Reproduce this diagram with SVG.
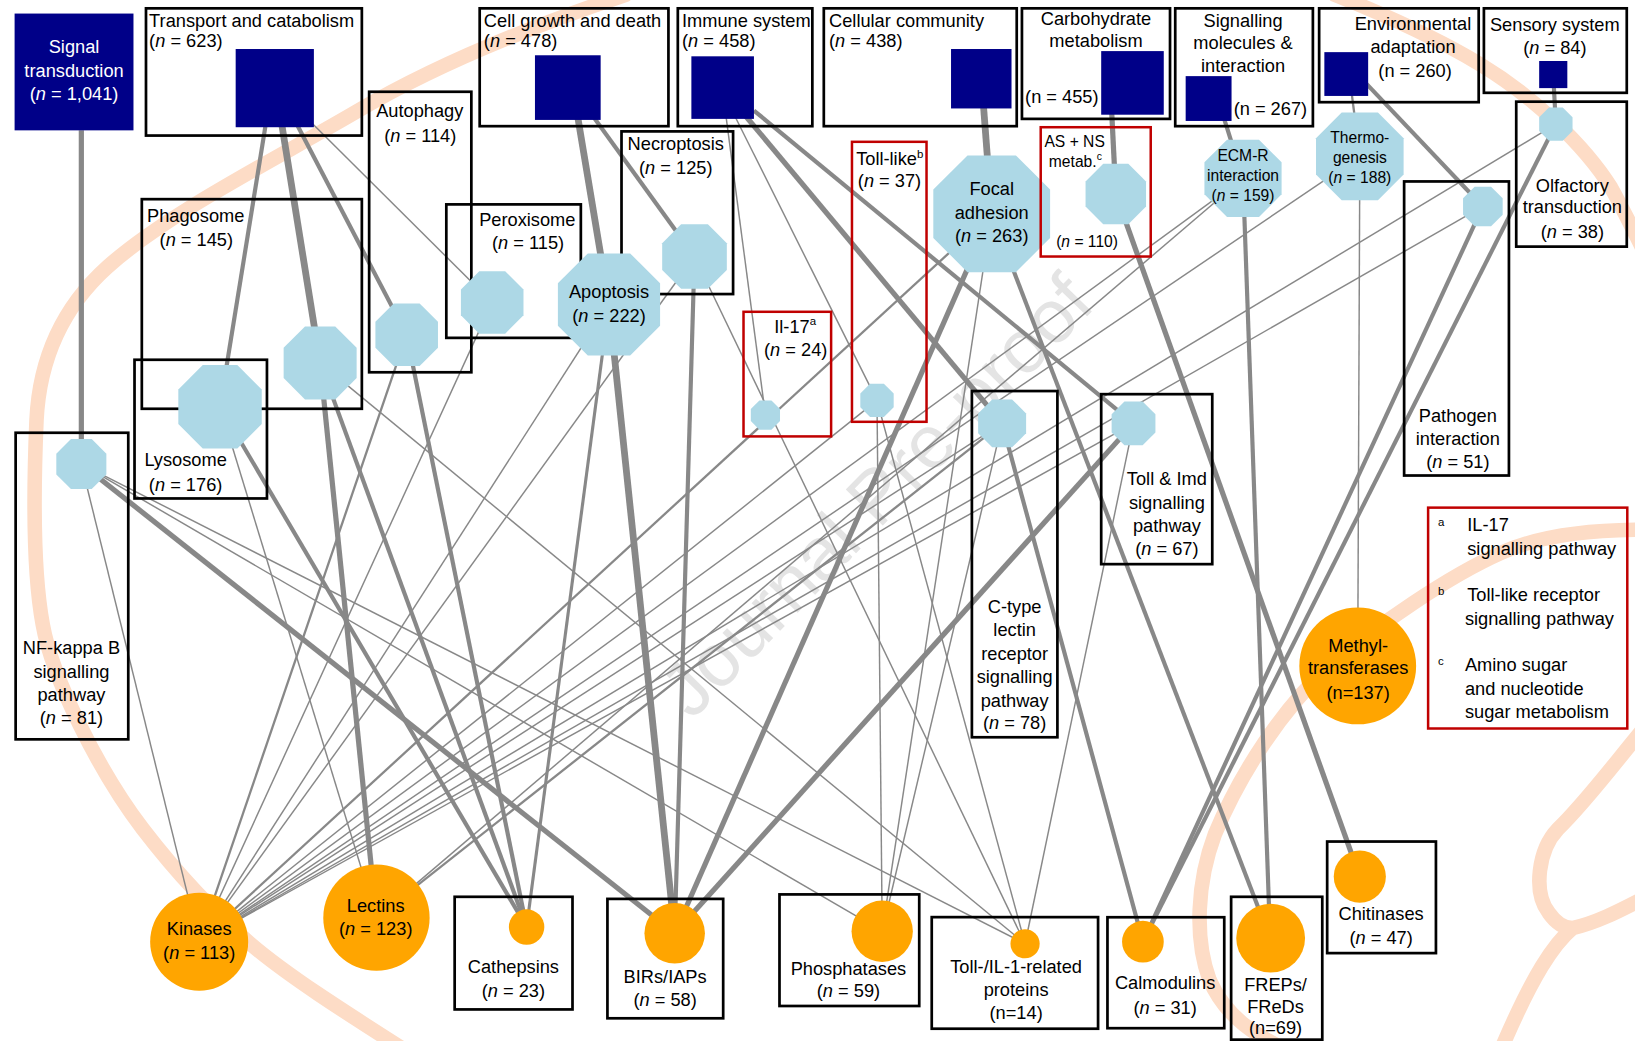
<svg xmlns="http://www.w3.org/2000/svg" width="1635" height="1041" viewBox="0 0 1635 1041">
<style>
.t{font-family:"Liberation Sans",Arial,sans-serif;font-size:17.5px;fill:#000}
.c{text-anchor:middle}
.s{font-size:15px}
.w{fill:#fff}
.i{font-style:italic}
.box{fill:none;stroke:#000;stroke-width:2.6}
.rbox{fill:none;stroke:#c00000;stroke-width:2.4}
.navy{fill:#000088}
.oct{fill:#add8e6}
.org{fill:#ffa500}
.e{stroke:#888;fill:none;stroke-linecap:butt}
.w1{stroke-width:1.4}.w2{stroke-width:2.2}.w3{stroke-width:3}.w4{stroke-width:4}.w5{stroke-width:5}.w6{stroke-width:6.5}
.peach{fill:none;stroke:#fddcc6;stroke-width:14;stroke-linecap:round;stroke-linejoin:round}
</style>
<defs>
<polygon id="oct" points="1,-0.4142 1,0.4142 0.4142,1 -0.4142,1 -1,0.4142 -1,-0.4142 -0.4142,-1 0.4142,-1"/>
</defs>
<rect width="1635" height="1041" fill="#fff"/>
<g transform="scale(1.0428)">
<g id="background">
<path class="peach" d="M600,-5 C540,15 430,55 342,107 C260,155 160,205 103,256 C63,292 38,340 35,403 C33,450 30,540 41,599 C50,650 95,740 137,795 C170,838 205,875 240,905 C275,935 330,970 385,1005"/>
<path class="peach" d="M1280,-5 C1330,15 1380,38 1420,62 C1470,92 1520,140 1545,180 C1555,198 1562,212 1575,238"/>
<path class="peach" d="M1575,508 C1530,508 1480,512 1440,530 C1390,552 1320,600 1274,639 C1230,680 1190,740 1165,800 C1148,845 1145,900 1160,940 C1175,975 1205,995 1245,1012"/>
<path class="peach" d="M1575,700 C1550,730 1520,770 1494,795 C1475,815 1470,855 1485,875 C1492,885 1500,890 1508,890 C1530,885 1550,875 1575,862 M1508,890 C1490,905 1470,935 1440,1005"/>
<text class="t c" transform="translate(840,475) rotate(-45.7)" x="0" y="25" style="font-size:72px;fill:#e4e4e4">Journal Pre-proof</text>
</g>
<g id="connectors">
<line class="e w5" x1="78" y1="125" x2="78" y2="445"/>
<line class="e w4" x1="255" y1="118" x2="211" y2="390"/>
<line class="e w6" x1="270" y1="118" x2="307" y2="348"/>
<line class="e w4" x1="284" y1="118" x2="390" y2="321"/>
<line class="e w1" x1="299" y1="118" x2="472" y2="290"/>
<line class="e w6" x1="554" y1="112" x2="584" y2="292"/>
<line class="e w4" x1="569" y1="112" x2="666" y2="246"/>
<line class="e w1" x1="696" y1="110" x2="734" y2="398"/>
<line class="e w1" x1="704" y1="110" x2="841" y2="384"/>
<line class="e w5" x1="714" y1="110" x2="961" y2="406"/>
<line class="e w4" x1="723" y1="106" x2="1087" y2="406"/>
<line class="e w6" x1="943" y1="100" x2="951" y2="205"/>
<line class="e w5" x1="1066" y1="106" x2="1070" y2="186"/>
<line class="e w4" x1="1172" y1="108" x2="1192" y2="171"/>
<line class="e w2" x1="1296" y1="88" x2="1304" y2="150"/>
<line class="e w4" x1="1310" y1="80" x2="1422" y2="198"/>
<line class="e w4" x1="1490" y1="82" x2="1492" y2="119"/>
<line class="e w1" x1="78" y1="445" x2="191" y2="903"/>
<line class="e w5" x1="78" y1="445" x2="647" y2="895"/>
<line class="e w1" x1="78" y1="445" x2="846" y2="893"/>
<line class="e w1" x1="78" y1="445" x2="983" y2="905"/>
<line class="e w4" x1="211" y1="390" x2="505" y2="889"/>
<line class="e w1" x1="211" y1="390" x2="361" y2="880"/>
<line class="e w5" x1="307" y1="348" x2="361" y2="880"/>
<line class="e w4" x1="307" y1="348" x2="505" y2="889"/>
<line class="e w1" x1="307" y1="348" x2="983" y2="905"/>
<line class="e w2" x1="390" y1="321" x2="191" y2="903"/>
<line class="e w4" x1="390" y1="321" x2="505" y2="889"/>
<line class="e w1" x1="472" y1="290" x2="191" y2="903"/>
<line class="e w6" x1="584" y1="292" x2="647" y2="895"/>
<line class="e w3" x1="584" y1="292" x2="505" y2="889"/>
<line class="e w1" x1="584" y1="292" x2="191" y2="903"/>
<line class="e w4" x1="666" y1="246" x2="647" y2="895"/>
<line class="e w1" x1="666" y1="246" x2="983" y2="905"/>
<line class="e w1" x1="666" y1="246" x2="191" y2="903"/>
<line class="e w1" x1="841" y1="384" x2="846" y2="893"/>
<line class="e w1" x1="841" y1="384" x2="983" y2="905"/>
<line class="e w1" x1="841" y1="384" x2="191" y2="903"/>
<line class="e w5" x1="951" y1="205" x2="647" y2="895"/>
<line class="e w4" x1="951" y1="205" x2="1218" y2="900"/>
<line class="e w1" x1="951" y1="205" x2="846" y2="893"/>
<line class="e w2" x1="951" y1="205" x2="191" y2="903"/>
<line class="e w4" x1="961" y1="406" x2="1096" y2="903"/>
<line class="e w2" x1="961" y1="406" x2="361" y2="880"/>
<line class="e w1" x1="961" y1="406" x2="846" y2="893"/>
<line class="e w1" x1="961" y1="406" x2="191" y2="903"/>
<line class="e w5" x1="1087" y1="406" x2="647" y2="895"/>
<line class="e w1" x1="1087" y1="406" x2="983" y2="905"/>
<line class="e w1" x1="1087" y1="406" x2="191" y2="903"/>
<line class="e w5" x1="1070" y1="186" x2="1304" y2="841"/>
<line class="e w4" x1="1192" y1="171" x2="1218" y2="900"/>
<line class="e w1" x1="1192" y1="171" x2="191" y2="903"/>
<line class="e w1" x1="1192" y1="171" x2="361" y2="880"/>
<line class="e w1" x1="1304" y1="150" x2="1302" y2="638"/>
<line class="e w1" x1="1304" y1="150" x2="191" y2="903"/>
<line class="e w4" x1="1422" y1="198" x2="1096" y2="903"/>
<line class="e w1" x1="1422" y1="198" x2="191" y2="903"/>
<line class="e w4" x1="1492" y1="119" x2="1096" y2="903"/>
<line class="e w1" x1="1492" y1="119" x2="191" y2="903"/>
</g>
<g id="n-signal">
<rect class="navy" x="14" y="13" width="114" height="112"/>
<text class="t c w" x="71" y="50.5">Signal</text>
<text class="t c w" x="71" y="74">transduction</text>
<text class="t c w" x="71" y="96">(<tspan class="i">n</tspan> = 1,041)</text>
</g>
<g id="n-transport">
<rect class="box" x="140" y="8" width="207" height="122"/>
<rect class="navy" x="226" y="47" width="75" height="75"/>
<text class="t" x="143" y="26">Transport and catabolism</text>
<text class="t" x="143" y="45">(<tspan class="i">n</tspan> = 623)</text>
</g>
<g id="n-cellgrowth">
<rect class="box" x="460" y="8" width="181" height="113"/>
<rect class="navy" x="513" y="53" width="63" height="62"/>
<text class="t" x="464" y="26">Cell growth and death</text>
<text class="t" x="464" y="45">(<tspan class="i">n</tspan> = 478)</text>
</g>
<g id="n-immune">
<rect class="box" x="650" y="8" width="129" height="113"/>
<rect class="navy" x="663" y="54" width="60" height="60"/>
<text class="t" x="654" y="26">Immune system</text>
<text class="t" x="654" y="45">(<tspan class="i">n</tspan> = 458)</text>
</g>
<g id="n-cellular">
<rect class="box" x="790" y="8" width="185" height="113"/>
<rect class="navy" x="912" y="47" width="58" height="57"/>
<text class="t" x="795" y="26">Cellular community</text>
<text class="t" x="795" y="45">(<tspan class="i">n</tspan> = 438)</text>
</g>
<g id="n-carbo">
<rect class="box" x="980" y="8" width="142" height="106"/>
<rect class="navy" x="1056" y="49" width="60" height="61"/>
<text class="t c" x="1051" y="24">Carbohydrate</text>
<text class="t c" x="1051" y="45">metabolism</text>
<text class="t" x="983" y="99">(n = 455)</text>
</g>
<g id="n-signalling">
<rect class="box" x="1127" y="8" width="132" height="113"/>
<rect class="navy" x="1137" y="73" width="44" height="43"/>
<text class="t c" x="1192" y="25.6">Signalling</text>
<text class="t c" x="1192" y="47.3">molecules &amp;</text>
<text class="t c" x="1192" y="68.7">interaction</text>
<text class="t" x="1183" y="110">(n = 267)</text>
</g>
<g id="n-environmental">
<rect class="box" x="1265" y="8" width="153" height="90"/>
<rect class="navy" x="1270" y="50" width="42" height="42"/>
<text class="t c" x="1355" y="29">Environmental</text>
<text class="t c" x="1355" y="51">adaptation</text>
<text class="t c" x="1357" y="74">(n = 260)</text>
</g>
<g id="n-sensory">
<rect class="box" x="1423" y="8" width="137" height="81"/>
<rect class="navy" x="1476" y="58.5" width="27" height="26"/>
<text class="t c" x="1491" y="29.4">Sensory system</text>
<text class="t c" x="1491" y="51.8">(<tspan class="i">n</tspan> = 84)</text>
</g>
<g id="n-nfkb">
<rect class="box" x="15" y="415" width="108" height="294"/>
<use href="#oct" class="oct" transform="translate(78 445) scale(24)"/>
<text class="t c" x="68.5" y="627">NF-kappa B</text>
<text class="t c" x="68.5" y="650">signalling</text>
<text class="t c" x="68.5" y="672">pathway</text>
<text class="t c" x="68.5" y="694">(<tspan class="i">n</tspan> = 81)</text>
</g>
<g id="n-phagosome">
<rect class="box" x="136" y="191" width="211" height="201"/>
<use href="#oct" class="oct" transform="translate(307 348) scale(35)"/>
<text class="t" x="141" y="212.6">Phagosome</text>
<text class="t" x="153" y="236">(<tspan class="i">n</tspan> = 145)</text>
</g>
<g id="n-lysosome">
<rect class="box" x="129" y="345" width="127" height="133"/>
<use href="#oct" class="oct" transform="translate(211 390) scale(40)"/>
<text class="t c" x="178" y="447">Lysosome</text>
<text class="t c" x="178" y="470.7">(<tspan class="i">n</tspan> = 176)</text>
</g>
<g id="n-autophagy">
<rect class="box" x="354" y="88" width="98" height="269"/>
<use href="#oct" class="oct" transform="translate(390 321) scale(30)"/>
<text class="t c" x="402.5" y="112.5">Autophagy</text>
<text class="t c" x="403" y="136">(<tspan class="i">n</tspan> = 114)</text>
</g>
<g id="n-peroxisome">
<rect class="box" x="428" y="196" width="129" height="128"/>
<use href="#oct" class="oct" transform="translate(472 290) scale(30)"/>
<text class="t" x="459.5" y="216.4">Peroxisome</text>
<text class="t" x="471.8" y="239">(<tspan class="i">n</tspan> = 115)</text>
</g>
<g id="n-necroptosis">
<rect class="box" x="596" y="126" width="107" height="156"/>
<use href="#oct" class="oct" transform="translate(666 246) scale(31)"/>
<text class="t c" x="648" y="143.9">Necroptosis</text>
<text class="t c" x="648" y="166.9">(<tspan class="i">n</tspan> = 125)</text>
</g>
<g id="n-apoptosis">
<use href="#oct" class="oct" transform="translate(584 292) scale(49)"/>
<text class="t c" x="584" y="285.5">Apoptosis</text>
<text class="t c" x="584" y="308.5">(<tspan class="i">n</tspan> = 222)</text>
</g>
<g id="n-il17">
<rect class="rbox" x="713" y="299" width="84" height="119.5"/>
<use href="#oct" class="oct" transform="translate(734 398) scale(14)"/>
<text class="t c" x="762.5" y="319">Il-17<tspan style="font-size:11px" dy="-7">a</tspan></text>
<text class="t c" x="763" y="341">(<tspan class="i">n</tspan> = 24)</text>
</g>
<g id="n-tolllike">
<rect class="rbox" x="817" y="136" width="71.5" height="268.5"/>
<use href="#oct" class="oct" transform="translate(841 384) scale(16)"/>
<text class="t" x="821" y="158.2">Toll-like<tspan style="font-size:11px" dy="-7">b</tspan></text>
<text class="t c" x="853" y="179.7">(<tspan class="i">n</tspan> = 37)</text>
</g>
<g id="n-focal">
<use href="#oct" class="oct" transform="translate(951 205) scale(56)"/>
<text class="t c" x="951" y="187">Focal</text>
<text class="t c" x="951" y="210.3">adhesion</text>
<text class="t c" x="951" y="231.8">(<tspan class="i">n</tspan> = 263)</text>
</g>
<g id="n-asns">
<rect class="rbox" x="998" y="122" width="105.5" height="124"/>
<use href="#oct" class="oct" transform="translate(1070 186) scale(29)"/>
<text class="t s" x="1001.6" y="140.7">AS + NS</text>
<text class="t s" x="1005.8" y="159.9">metab.<tspan style="font-size:10px" dy="-6">c</tspan></text>
<text class="t s" x="1012.8" y="236.6">(<tspan class="i">n</tspan> = 110)</text>
</g>
<g id="n-ecmr">
<use href="#oct" class="oct" transform="translate(1192 171) scale(37)"/>
<text class="t c s" x="1192" y="154.4">ECM-R</text>
<text class="t c s" x="1192" y="173.6">interaction</text>
<text class="t c s" x="1192" y="192.8">(<tspan class="i">n</tspan> = 159)</text>
</g>
<g id="n-thermo">
<use href="#oct" class="oct" transform="translate(1304 150) scale(42)"/>
<text class="t c s" x="1304" y="136.8">Thermo-</text>
<text class="t c s" x="1304" y="156">genesis</text>
<text class="t c s" x="1304" y="175.2">(<tspan class="i">n</tspan> = 188)</text>
</g>
<g id="n-olfactory">
<rect class="box" x="1454" y="97.5" width="106" height="139"/>
<use href="#oct" class="oct" transform="translate(1492 119) scale(16)"/>
<text class="t c" x="1507.8" y="183.8">Olfactory</text>
<text class="t c" x="1507.8" y="204.6">transduction</text>
<text class="t c" x="1507.8" y="228">(<tspan class="i">n</tspan> = 38)</text>
</g>
<g id="n-pathogen">
<rect class="box" x="1346.5" y="174" width="100.5" height="282"/>
<use href="#oct" class="oct" transform="translate(1422 198) scale(19)"/>
<text class="t c" x="1398" y="405">Pathogen</text>
<text class="t c" x="1398" y="426.8">interaction</text>
<text class="t c" x="1398" y="449">(<tspan class="i">n</tspan> = 51)</text>
</g>
<g id="n-ctype">
<rect class="box" x="932" y="375" width="82" height="332"/>
<use href="#oct" class="oct" transform="translate(961 406) scale(23)"/>
<text class="t c" x="973" y="587.6">C-type</text>
<text class="t c" x="973" y="610">lectin</text>
<text class="t c" x="973" y="632.7">receptor</text>
<text class="t c" x="973" y="655">signalling</text>
<text class="t c" x="973" y="677.7">pathway</text>
<text class="t c" x="973" y="699">(<tspan class="i">n</tspan> = 78)</text>
</g>
<g id="n-tollimd">
<rect class="box" x="1056" y="378" width="106.5" height="163"/>
<use href="#oct" class="oct" transform="translate(1087 406) scale(21)"/>
<text class="t c" x="1119" y="465">Toll &amp; Imd</text>
<text class="t c" x="1119" y="488.5">signalling</text>
<text class="t c" x="1119" y="510">pathway</text>
<text class="t c" x="1119" y="532.3">(<tspan class="i">n</tspan> = 67)</text>
</g>
<g id="n-kinases">
<circle class="org" cx="191" cy="903" r="47"/>
<text class="t c" x="191" y="896.7">Kinases</text>
<text class="t c" x="191" y="920">(<tspan class="i">n</tspan> = 113)</text>
</g>
<g id="n-lectins">
<circle class="org" cx="361" cy="880" r="51"/>
<text class="t c" x="360.3" y="874.3">Lectins</text>
<text class="t c" x="360.3" y="896.7">(<tspan class="i">n</tspan> = 123)</text>
</g>
<g id="n-cathepsins">
<rect class="box" x="436" y="860" width="113" height="108"/>
<circle class="org" cx="505" cy="889" r="17"/>
<text class="t c" x="492.3" y="933.5">Cathepsins</text>
<text class="t c" x="492.3" y="955.8">(<tspan class="i">n</tspan> = 23)</text>
</g>
<g id="n-birs">
<rect class="box" x="582.5" y="862" width="111" height="114.5"/>
<circle class="org" cx="647" cy="895" r="29"/>
<text class="t c" x="637.8" y="942.4">BIRs/IAPs</text>
<text class="t c" x="637.8" y="964.8">(<tspan class="i">n</tspan> = 58)</text>
</g>
<g id="n-phosphatases">
<rect class="box" x="747.5" y="857.7" width="134" height="107"/>
<circle class="org" cx="846" cy="893" r="29.4"/>
<text class="t c" x="813.6" y="935">Phosphatases</text>
<text class="t c" x="813.6" y="956.5">(<tspan class="i">n</tspan> = 59)</text>
</g>
<g id="n-tollil1">
<rect class="box" x="893.5" y="879.5" width="159.5" height="107"/>
<circle class="org" cx="983" cy="905" r="14"/>
<text class="t c" x="974.4" y="933.5">Toll-/IL-1-related</text>
<text class="t c" x="974.4" y="955.2">proteins</text>
<text class="t c" x="974.4" y="977.6">(n=14)</text>
</g>
<g id="n-calmodulins">
<rect class="box" x="1062" y="879.6" width="112" height="106.4"/>
<circle class="org" cx="1096" cy="903" r="20"/>
<text class="t c" x="1117.3" y="948.5">Calmodulins</text>
<text class="t c" x="1117.3" y="972">(<tspan class="i">n</tspan> = 31)</text>
</g>
<g id="n-freps">
<rect class="box" x="1180.6" y="860" width="87.4" height="137"/>
<circle class="org" cx="1218.5" cy="899.6" r="33"/>
<text class="t c" x="1223.2" y="950.4">FREPs/</text>
<text class="t c" x="1223.2" y="971.2">FReDs</text>
<text class="t c" x="1223.2" y="991.6">(n=69)</text>
</g>
<g id="n-chitinases">
<rect class="box" x="1272.7" y="807" width="104.3" height="107"/>
<circle class="org" cx="1304" cy="840.6" r="25"/>
<text class="t c" x="1324.4" y="881.8">Chitinases</text>
<text class="t c" x="1324.4" y="905">(<tspan class="i">n</tspan> = 47)</text>
</g>
<g id="n-methyl">
<circle class="org" cx="1302" cy="638.6" r="56"/>
<text class="t c" x="1302.4" y="624.8">Methyl-</text>
<text class="t c" x="1302.4" y="646.4">transferases</text>
<text class="t c" x="1302.4" y="670">(n=137)</text>
</g>
<g id="legend">
<rect class="rbox" x="1369.5" y="486.8" width="191" height="211.8"/>
<text class="t" x="1379" y="504" style="font-size:11px">a</text>
<text class="t" x="1407" y="509.3">IL-17</text>
<text class="t" x="1407" y="532.7">signalling pathway</text>
<text class="t" x="1379" y="571" style="font-size:11px">b</text>
<text class="t" x="1407" y="576.4">Toll-like receptor</text>
<text class="t" x="1404.8" y="599.4">signalling pathway</text>
<text class="t" x="1379" y="638" style="font-size:11px">c</text>
<text class="t" x="1404.8" y="643.3">Amino sugar</text>
<text class="t" x="1404.8" y="666">and nucleotide</text>
<text class="t" x="1404.8" y="688.4">sugar metabolism</text>
</g>
</g>
</svg>
